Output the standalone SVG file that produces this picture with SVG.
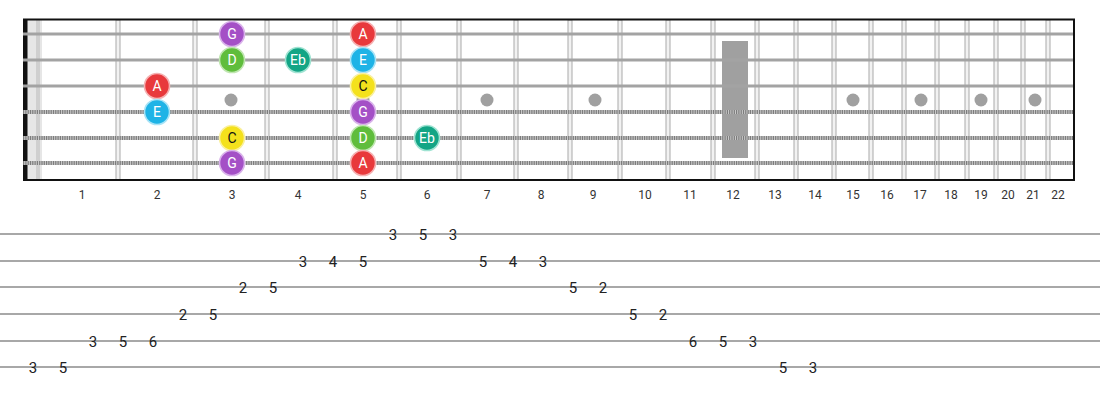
<svg xmlns="http://www.w3.org/2000/svg" width="1100" height="400" viewBox="0 0 1100 400">
<style>
.fret{fill:#f2f2f2;stroke:#aaa;stroke-width:1}
.plain{stroke:#a3a3a3;stroke-width:3}
.woundb{stroke:#c8c8c8;stroke-width:4}
.woundt{stroke:#7c7c7c;stroke-width:4;stroke-dasharray:1.2 1.1}
.inlay{fill:#a0a0a0}
.border{stroke:#111;stroke-width:2}
.note circle{stroke-width:1.6}
.note text{font-family:Roboto,"Liberation Sans",sans-serif;font-size:14px;text-anchor:middle;fill:#fff}
.fn{font-family:Roboto,"Liberation Sans",sans-serif;font-size:12px;fill:#333;text-anchor:middle}
.tabline{stroke:#a8a8a8;stroke-width:2}
.tn{font-family:Roboto,"Liberation Sans",sans-serif;font-size:15px;fill:#222;text-anchor:middle}
.G{fill:#a450c6;stroke:#d9b3ea}
.D{fill:#5fbd3c;stroke:#bfe6b0}
.A{fill:#e8393c;stroke:#f5b0b1}
.E{fill:#1eb3e6;stroke:#a8e3f6}
.C{fill:#f4e11c;stroke:#faf0a0}
.Eb{fill:#13a585;stroke:#9fe3d2}
</style>
<rect x="0" y="0" width="1100" height="400" fill="#fff"/>
<g id="fretboard">
<rect x="27" y="20" width="15" height="160" fill="#e6e6e6"/>
<rect x="36" y="20" width="4" height="160" fill="#cfcfcf"/>
<rect x="23" y="19" width="4.5" height="162" fill="#111"/>
<g id="frets">
<rect class="fret" x="116" y="20" width="4" height="160"/>
<rect class="fret" x="193" y="20" width="4" height="160"/>
<rect class="fret" x="265" y="20" width="4" height="160"/>
<rect class="fret" x="333" y="20" width="4" height="160"/>
<rect class="fret" x="397" y="20" width="4" height="160"/>
<rect class="fret" x="457" y="20" width="4" height="160"/>
<rect class="fret" x="514" y="20" width="4" height="160"/>
<rect class="fret" x="568" y="20" width="4" height="160"/>
<rect class="fret" x="618" y="20" width="4" height="160"/>
<rect class="fret" x="666" y="20" width="4" height="160"/>
<rect class="fret" x="711" y="20" width="4" height="160"/>
<rect class="fret" x="755" y="20" width="4" height="160"/>
<rect class="fret" x="794" y="20" width="4" height="160"/>
<rect class="fret" x="832" y="20" width="4" height="160"/>
<rect class="fret" x="869" y="20" width="4" height="160"/>
<rect class="fret" x="902" y="20" width="4" height="160"/>
<rect class="fret" x="935" y="20" width="4" height="160"/>
<rect class="fret" x="965" y="20" width="4" height="160"/>
<rect class="fret" x="994" y="20" width="4" height="160"/>
<rect class="fret" x="1021" y="20" width="4" height="160"/>
<rect class="fret" x="1046" y="20" width="4" height="160"/>
</g>
<g id="inlays">
<circle class="inlay" cx="231" cy="100" r="6.5"/>
<circle class="inlay" cx="363" cy="100" r="6.5"/>
<circle class="inlay" cx="487" cy="100" r="6.5"/>
<circle class="inlay" cx="595" cy="100" r="6.5"/>
<circle class="inlay" cx="853" cy="100" r="6.5"/>
<circle class="inlay" cx="921" cy="100" r="6.5"/>
<circle class="inlay" cx="981" cy="100" r="6.5"/>
<circle class="inlay" cx="1035" cy="100" r="6.5"/>
<rect class="inlay" x="722" y="41" width="26" height="117"/>
</g>
<g id="strings">
<line class="plain" x1="23" y1="34" x2="1075" y2="34"/>
<line class="plain" x1="23" y1="60" x2="1075" y2="60"/>
<line class="plain" x1="23" y1="86" x2="1075" y2="86"/>
<line class="woundb" x1="23" y1="112" x2="1075" y2="112"/>
<line class="woundt" x1="23" y1="112" x2="1075" y2="112"/>
<line class="woundb" x1="23" y1="138" x2="1075" y2="138"/>
<line class="woundt" x1="23" y1="138" x2="1075" y2="138"/>
<line class="woundb" x1="23" y1="163" x2="1075" y2="163"/>
<line class="woundt" x1="23" y1="163" x2="1075" y2="163"/>
</g>
<line class="border" x1="23" y1="19.5" x2="1075" y2="19.5"/>
<line class="border" x1="23" y1="180" x2="1075" y2="180"/>
<line class="border" x1="1074" y1="19" x2="1074" y2="181"/>
</g>
<g id="fret-numbers">
<text class="fn" x="82" y="199">1</text>
<text class="fn" x="157" y="199">2</text>
<text class="fn" x="232" y="199">3</text>
<text class="fn" x="298" y="199">4</text>
<text class="fn" x="363" y="199">5</text>
<text class="fn" x="427" y="199">6</text>
<text class="fn" x="487" y="199">7</text>
<text class="fn" x="541" y="199">8</text>
<text class="fn" x="593" y="199">9</text>
<text class="fn" x="645" y="199">10</text>
<text class="fn" x="690" y="199">11</text>
<text class="fn" x="733" y="199">12</text>
<text class="fn" x="775" y="199">13</text>
<text class="fn" x="815" y="199">14</text>
<text class="fn" x="853" y="199">15</text>
<text class="fn" x="887" y="199">16</text>
<text class="fn" x="920" y="199">17</text>
<text class="fn" x="951" y="199">18</text>
<text class="fn" x="981" y="199">19</text>
<text class="fn" x="1008" y="199">20</text>
<text class="fn" x="1033" y="199">21</text>
<text class="fn" x="1058" y="199">22</text>
</g>
<g id="notes">
<g id="n1-3" class="note"><circle class="G" cx="232" cy="34" r="12.5"/><text x="232" y="39">G</text></g>
<g id="n1-5" class="note"><circle class="A" cx="363" cy="34" r="12.5"/><text x="363" y="39">A</text></g>
<g id="n2-3" class="note"><circle class="D" cx="232" cy="60" r="12.5"/><text x="232" y="65">D</text></g>
<g id="n2-4" class="note"><circle class="Eb" cx="298" cy="60" r="12.5"/><text x="298" y="65">Eb</text></g>
<g id="n2-5" class="note"><circle class="E" cx="363" cy="60" r="12.5"/><text x="363" y="65">E</text></g>
<g id="n3-2" class="note"><circle class="A" cx="157" cy="86" r="12.5"/><text x="157" y="91">A</text></g>
<g id="n3-5" class="note"><circle class="C" cx="363" cy="86" r="12.5"/><text x="363" y="91" style="fill:#111">C</text></g>
<g id="n4-2" class="note"><circle class="E" cx="157" cy="112" r="12.5"/><text x="157" y="117">E</text></g>
<g id="n4-5" class="note"><circle class="G" cx="363" cy="112" r="12.5"/><text x="363" y="117">G</text></g>
<g id="n5-3" class="note"><circle class="C" cx="232" cy="138" r="12.5"/><text x="232" y="143" style="fill:#111">C</text></g>
<g id="n5-5" class="note"><circle class="D" cx="363" cy="138" r="12.5"/><text x="363" y="143">D</text></g>
<g id="n5-6" class="note"><circle class="Eb" cx="427" cy="138" r="12.5"/><text x="427" y="143">Eb</text></g>
<g id="n6-3" class="note"><circle class="G" cx="232" cy="163" r="12.5"/><text x="232" y="168">G</text></g>
<g id="n6-5" class="note"><circle class="A" cx="363" cy="163" r="12.5"/><text x="363" y="168">A</text></g>
</g>
<g id="tab">
<g id="tab-lines">
<line class="tabline" x1="0" y1="234" x2="1100" y2="234"/>
<line class="tabline" x1="0" y1="261" x2="1100" y2="261"/>
<line class="tabline" x1="0" y1="287" x2="1100" y2="287"/>
<line class="tabline" x1="0" y1="314" x2="1100" y2="314"/>
<line class="tabline" x1="0" y1="341" x2="1100" y2="341"/>
<line class="tabline" x1="0" y1="367" x2="1100" y2="367"/>
</g>
<g id="tab-numbers">
<text class="tn" x="393" y="239.5">3</text><text class="tn" x="423" y="239.5">5</text><text class="tn" x="453" y="239.5">3</text>
<text class="tn" x="303" y="266.5">3</text><text class="tn" x="333" y="266.5">4</text><text class="tn" x="363" y="266.5">5</text>
<text class="tn" x="483" y="266.5">5</text><text class="tn" x="513" y="266.5">4</text><text class="tn" x="543" y="266.5">3</text>
<text class="tn" x="243" y="292.5">2</text><text class="tn" x="273" y="292.5">5</text>
<text class="tn" x="573" y="292.5">5</text><text class="tn" x="603" y="292.5">2</text>
<text class="tn" x="183" y="319.5">2</text><text class="tn" x="213" y="319.5">5</text>
<text class="tn" x="633" y="319.5">5</text><text class="tn" x="663" y="319.5">2</text>
<text class="tn" x="93" y="346.5">3</text><text class="tn" x="123" y="346.5">5</text><text class="tn" x="153" y="346.5">6</text>
<text class="tn" x="693" y="346.5">6</text><text class="tn" x="723" y="346.5">5</text><text class="tn" x="753" y="346.5">3</text>
<text class="tn" x="33" y="372.5">3</text><text class="tn" x="63" y="372.5">5</text>
<text class="tn" x="783" y="372.5">5</text><text class="tn" x="813" y="372.5">3</text>
</g>
</g>
</svg>
